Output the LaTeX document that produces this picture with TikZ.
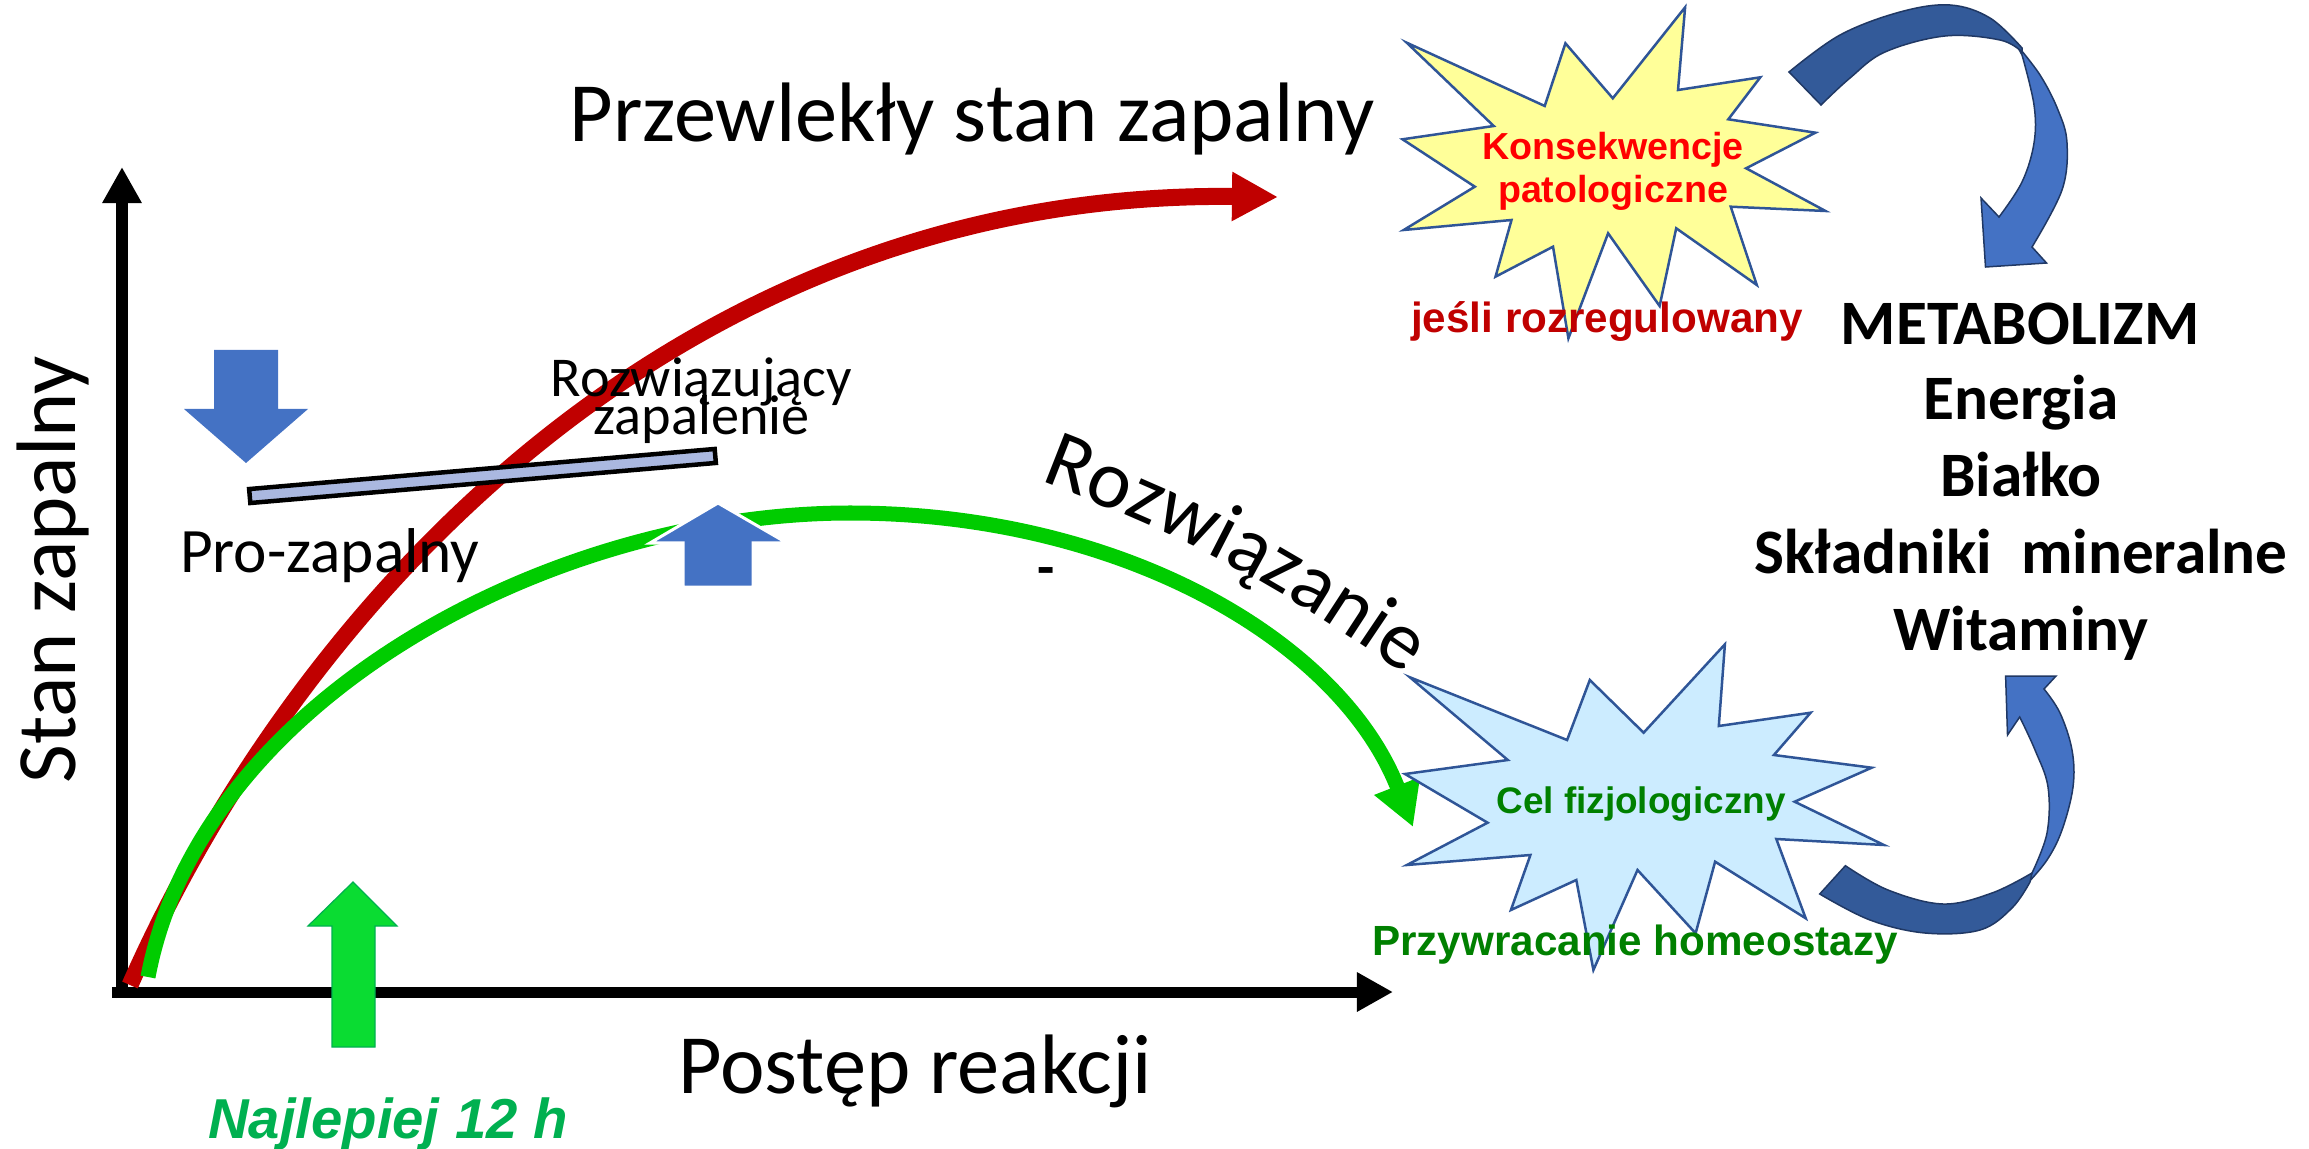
\documentclass[tikz,border=0pt]{standalone}
\usepackage{fontspec}
\setmainfont{Carlito}
\newfontfamily\arialf{Liberation Sans}
\usetikzlibrary{arrows.meta,decorations.text}
\definecolor{redc}{HTML}{C00000}
\definecolor{greenc}{HTML}{00CC00}
\definecolor{bluea}{HTML}{4472C4}
\definecolor{blued}{HTML}{335A99}
\definecolor{navy}{HTML}{203864}
\definecolor{lav}{HTML}{AAB8E0}
\definecolor{starline}{HTML}{2F5597}
\definecolor{yel}{HTML}{FFFF99}
\definecolor{lblue}{HTML}{CCECFF}
\definecolor{txtgreen}{HTML}{008000}
\definecolor{najgreen}{HTML}{00B050}
\definecolor{arrgreen}{HTML}{0ADC32}
\definecolor{txtred}{HTML}{FF0000}
\begin{document}
\begin{tikzpicture}[x=0.01cm,y=0.01cm,
  lbl/.style={inner sep=0pt, outer sep=0pt},
  big/.style={lbl, font=\fontsize{24pt}{28pt}\selectfont},
  mid/.style={lbl, font=\fontsize{18pt}{21pt}\selectfont},
  small/.style={lbl, font=\fontsize{16pt}{19pt}\selectfont},
  metab/.style={lbl, anchor=base, font=\bfseries\fontsize{18pt}{21pt}\selectfont},
  arb/.style={lbl, anchor=base, font=\arialf\bfseries\fontsize{#1}{14pt}\selectfont},
  axisline/.style={line width=0.11cm, -{Triangle[length=0.36cm,width=0.37cm]}},
  redline/.style={redc, line width=0.17cm, -{Triangle[length=0.46cm,width=0.46cm]}},
  greenline/.style={greenc, line width=0.15cm, -{Triangle[length=0.44cm,width=0.46cm]}},
  starshape/.style={draw=starline, line width=0.025cm, line join=miter},
  curvedark/.style={fill=blued, draw=navy, line width=0.015cm},
  curvelight/.style={fill=bluea, draw=navy, line width=0.015cm},
  blockarrow/.style={fill=bluea}
]
\useasboundingbox (0,0) rectangle (2309,-1149);

% axes
\coordinate (O) at (122,-992);
\coordinate (ybot) at (122,-998);
\coordinate (ytop) at (122,-167);
\coordinate (xbeg) at (112,-992);
\coordinate (xend) at (1393,-992);
\draw[axisline] (ybot) -- (ytop);
\draw[axisline] (xbeg) -- (xend);

% curves
\coordinate (r0) at (130,-985);
\coordinate (r1) at (1278,-197);
\draw[redline] (r0) .. controls (300,-600) and (680,-190) .. (r1);

\coordinate (g0) at (148,-977);
\coordinate (gpk) at (850,-513);
\coordinate (g1) at (1413,-827);
\draw[greenline] (g0) .. controls (200,-700) and (550,-513) .. (gpk)
   .. controls (1120,-513) and (1340,-640) .. (g1);

% bar
\node[draw=black, line width=0.045cm, fill=lav, minimum width=4.67cm,
      minimum height=0.14cm, inner sep=0pt, rotate=4.92] (bar) at (482.5,-476) {};

% block arrows
\fill[blockarrow] (214,-350) -- (278,-350) -- (278,-409) -- (308,-409) -- (246,-463)
   -- (184,-409) -- (214,-409) -- cycle;
\draw[blockarrow, draw=white, line width=0.03cm] (683,-587) -- (753,-587) -- (753,-543)
   -- (787,-543) -- (718,-503) -- (650,-543) -- (683,-543) -- cycle;
\draw[draw=najgreen, line width=0.012cm, fill=arrgreen] (332,-1047) -- (375,-1047)
   -- (375,-926) -- (397,-926) -- (353,-882) -- (308,-926) -- (332,-926) -- cycle;

% stars
\draw[starshape, fill=yel] (1406.7,-42.7) -- (1544.7,-106) -- (1565.4,-43.3) -- (1612.8,-98.3)
  -- (1685.1,-7.3) -- (1678,-90) -- (1760.3,-77.3) -- (1728.3,-119.3) -- (1815.4,-132.7)
  -- (1746.1,-168.3) -- (1825.5,-211) -- (1730.7,-206.7) -- (1756.8,-285) -- (1676.2,-228.3)
  -- (1659.6,-306) -- (1608.1,-233.3) -- (1568.4,-338.3) -- (1553,-246.7) -- (1495.5,-276.7)
  -- (1511.5,-220) -- (1403.7,-230) -- (1474.8,-186.7) -- (1402.5,-139.3) -- (1493.7,-126) -- cycle;
\draw[starshape, fill=lblue] (1409.9,-677.3) -- (1567.1,-740) -- (1589.8,-680) -- (1643.6,-732.7)
  -- (1724.9,-644.3) -- (1718.8,-726) -- (1810.6,-712.7) -- (1773.9,-755) -- (1871.7,-767.7)
  -- (1794.6,-801.7) -- (1883.9,-845) -- (1776.3,-839) -- (1805.7,-918.3) -- (1715.1,-861.7)
  -- (1695.6,-933.3) -- (1637.5,-870) -- (1593.4,-970) -- (1576.3,-880) -- (1510.9,-910)
  -- (1530.4,-855) -- (1406.9,-865) -- (1487.6,-822.7) -- (1405,-774) -- (1507.8,-760) -- cycle;

% curved arrow top
\draw[curvelight] plot[smooth, tension=0.6] coordinates {(2016,-44) (2040,-75) (2058,-110) (2067,-143) (2062,-190) (2032,-247)}
  -- (2046.5,-263) -- (1985.5,-267) -- (1981,-198) -- (1999,-217)
  -- plot[smooth, tension=0.6] coordinates {(1999,-217) (2022,-182) (2034,-143) (2034,-105) (2022,-55)} -- cycle;
\draw[curvedark] plot[smooth, tension=0.6] coordinates {(1789,-72) (1840,-35) (1900,-12) (1950,-5) (1990,-18) (2022,-48)}
  -- (2022,-52)
  -- plot[smooth, tension=0.6] coordinates {(2022,-52) (2000,-40) (1945,-36) (1885,-52) (1850,-78) (1821,-105)} -- cycle;

% curved arrow bottom
\draw[curvelight] plot[smooth, tension=0.6] coordinates {(2026,-885) (2047,-860) (2062,-830) (2073,-787) (2072,-750) (2060,-713) (2044,-689)}
  -- (2056,-676) -- (2005.6,-676) -- (2007.5,-735) -- (2019.7,-717)
  -- plot[smooth, tension=0.6] coordinates {(2019.7,-717) (2035,-750) (2048,-787) (2047,-833) (2032,-873)} -- cycle;
\draw[curvedark] plot[smooth, tension=0.6] coordinates {(1819.7,-894) (1870,-920) (1925,-933) (1980,-930) (2012,-908) (2030,-882)}
  -- (2032,-873)
  -- plot[smooth, tension=0.6] coordinates {(2032,-873) (1992,-893) (1943,-904) (1888,-890) (1845.4,-865.7)} -- cycle;

% texts
\node[big, anchor=base] (title) at (972,-142) {Przewlekły stan zapalny};
\node[big, anchor=base, rotate=90] (ylab) at (75,-570) {Stan zapalny};
\node[big, anchor=base] (xlab) at (915,-1093) {Postęp reakcji};
\node[lbl, anchor=base, text=najgreen, font=\arialf\bfseries\itshape\fontsize{16pt}{19pt}\selectfont] (best) at (388,-1138) {Najlepiej 12 h};
\node[mid, anchor=base west] (pro) at (180,-572) {Pro-zapalny};
\node[small, anchor=base] (rozw1) at (701.5,-397) {Rozwiązujący};
\node[small, anchor=base] (rozw2) at (701.5,-435) {zapalenie};
\node[lbl, anchor=base, font=\bfseries\fontsize{16pt}{19pt}\selectfont] (dash) at (1046,-586) {-};
\path[decorate, decoration={text along path, text align=center,
   text={|\fontsize{23.5pt}{28pt}\selectfont|Rozwiązanie}}]
   (1040,-481) to[out=-21,in=145] (1405,-675);

\node[arb=10.7pt, text=txtred] (kons1) at (1613,-160) {Konsekwencje};
\node[arb=10.7pt, text=txtred] (kons2) at (1613,-203) {patologiczne};
\node[arb=12pt, text=redc] (jesli) at (1607,-333) {jeśli rozregulowany};
\node[arb=10.5pt, text=txtgreen] (cel) at (1641,-813) {Cel fizjologiczny};
\node[arb=12pt, text=txtgreen] (przyw) at (1635,-955) {Przywracanie homeostazy};

\node[metab] (met) at (2020,-345) {METABOLIZM};
\node[metab] (ener) at (2021,-420) {Energia};
\node[metab] (bial) at (2021,-497) {Białko};
\node[metab] (skl) at (2021,-573) {Składniki~~mineralne};
\node[metab] (wit) at (2021,-650) {Witaminy};
\end{tikzpicture}
\end{document}
